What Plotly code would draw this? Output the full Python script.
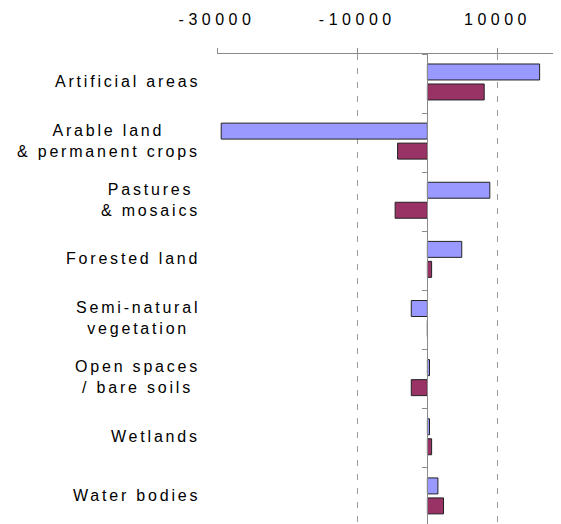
import plotly.graph_objects as go

# ---- data ----
categories = [
    "Artificial areas",
    "Arable land & permanent crops",
    "Pastures & mosaics",
    "Forested land",
    "Semi-natural vegetation",
    "Open spaces / bare soils",
    "Wetlands",
    "Water bodies",
]
category_labels = [
    "Artificial areas",
    "Arable land<br>& permanent crops",
    "Pastures<br>& mosaics",
    "Forested land",
    "Semi-natural<br>vegetation",
    "Open spaces<br>/ bare soils",
    "Wetlands",
    "Water bodies",
]
series_1 = [16000, -29400, 8900, 4900, -2300, 300, 300, 1500]
series_2 = [8100, -4250, -4600, 600, 0, -2300, 600, 2300]
x_tickvals = [-30000, -10000, 10000]
x_ticktext = ["-30000", "-10000", "10000"]

# ---- style ----
X_MIN, X_MAX = -30000, 19050
GREY = "#8a8a8a"
FONT = "Liberation Sans, Arial"
BAR_W = 0.27

fig = go.Figure()
fig.add_trace(go.Bar(
    y=categories, x=series_1, orientation="h", name="Series 1",
    width=BAR_W, offset=-0.331,
    marker=dict(color="#9999FF", line=dict(color="#222222", width=1)),
    showlegend=False,
))
fig.add_trace(go.Bar(
    y=categories, x=series_2, orientation="h", name="Series 2",
    width=BAR_W, offset=0.007,
    marker=dict(color="#993366", line=dict(color="#222222", width=1)),
    showlegend=False,
))
# helper trace so the zero-position category axis has its categories
fig.add_trace(go.Scatter(
    y=categories, x=[0] * len(categories), yaxis="y2", mode="markers",
    marker=dict(opacity=0), hoverinfo="skip", showlegend=False,
))

y_range = [7.448, -0.5]
for cat, lab in zip(categories, category_labels):
    fig.add_annotation(
        x=0, xref="paper", y=cat, yref="y", text=lab,
        showarrow=False, xanchor="right", yanchor="middle", align="center",
        xshift=-15, yshift=2, font=dict(size=16, color="#000000"),
    )

# page body has an 8px margin, so the figure is sized to end at the window edge
fig.update_layout(
    width=553, height=516,
    margin=dict(l=209, r=0, t=46, b=0, pad=0),
    paper_bgcolor="white", plot_bgcolor="white",
    font=dict(family=FONT, size=16, color="#000000"),
    barmode="group",
    xaxis=dict(
        side="top", range=[X_MIN, X_MAX], tickmode="array",
        tickvals=x_tickvals, ticktext=x_ticktext,
        showline=True, linecolor=GREY, linewidth=1,
        ticks="outside", ticklen=5, tickcolor=GREY,
        ticklabelstandoff=17,
        showgrid=True, gridcolor="#9a9a9a", griddash="6px,8px", gridwidth=1,
        zeroline=False, tickfont=dict(size=16),
    ),
    yaxis=dict(
        type="category", categoryorder="array", categoryarray=categories,
        range=y_range, showticklabels=False, showgrid=False,
        showline=False, zeroline=False, ticks="",
    ),
    yaxis2=dict(
        type="category", categoryorder="array", categoryarray=categories,
        overlaying="y", anchor="free", side="left",
        position=(0 - X_MIN) / (X_MAX - X_MIN),
        range=y_range, showticklabels=False, showgrid=False, zeroline=False,
        showline=True, linecolor=GREY, linewidth=1,
        ticks="outside", tickson="boundaries", ticklen=5, tickcolor=GREY,
    ),
)

post = """
var gd = document.getElementById('{plot_id}');
var st = document.createElement('style');
st.textContent = 'text.annotation-text{letter-spacing:2.8px;} .xtick text{letter-spacing:4.5px;}';
document.head.appendChild(st);
return Plotly.relayout(gd, {'font.family': 'Liberation Sans, Arial, sans-serif'});
"""

fig.write_html("out.html", post_script=post)
